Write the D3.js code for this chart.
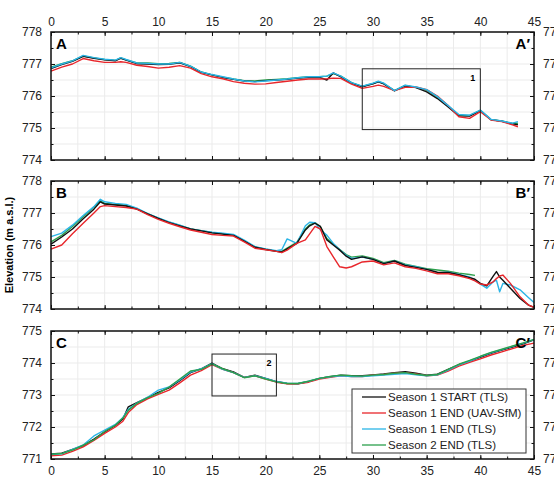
<!DOCTYPE html>
<html>
<head>
<meta charset="utf-8">
<script src="https://cdn.jsdelivr.net/npm/d3@7"></script>
<style>
  body { margin: 0; background: #fff; }
  svg { font-family: "Liberation Sans", Arial, sans-serif; }
  .tick text { fill: #222; font-size: 12px; }
</style>
</head>
<body>
<svg id="chart" width="554" height="480"></svg>
<script>
// series names + colours (legend order)
const seriesNames = ["Season 1 START (TLS)", "Season 1 END (UAV-SfM)", "Season 1 END (TLS)", "Season 2 END (TLS)"];
const seriesColors = ["#111111", "#e8262b", "#2bb5e6", "#2ca04c"];

const xTicks = [0, 5, 10, 15, 20, 25, 30, 35, 40, 45];

// profile A
const xA = [0,1,2,3,4,5,6,6.5,7,8,9,10,11,12,13,14,15,16,17,18,19,20,21,22,23,24,25,25.7,26.3,27,28,29,30,30.5,31,32,33,34,35,36,37,38,39,40,41,42,43,43.5];
const blackA = [776.86,776.98,777.08,777.24,777.18,777.13,777.1,777.18,777.12,777.01,777.0,776.98,776.99,777.04,776.92,776.74,776.66,776.58,776.52,776.47,776.45,776.48,776.5,776.52,776.56,776.58,776.58,776.5,776.72,776.6,776.4,776.29,776.38,776.44,776.38,776.16,776.32,776.26,776.13,775.92,775.66,775.38,775.37,775.54,775.26,775.21,775.13,775.1];
const redA = [776.78,776.9,777.0,777.17,777.1,777.05,777.05,777.07,777.05,776.96,776.92,776.87,776.9,776.95,776.87,776.7,776.6,776.54,776.45,776.4,776.37,776.38,776.42,776.46,776.5,776.53,776.53,776.54,776.56,776.55,776.37,776.24,776.3,776.34,776.3,776.17,776.27,776.28,776.2,776.0,775.7,775.35,775.3,775.51,775.25,775.2,775.1,775.04];
const cyanA = [776.88,777.0,777.1,777.27,777.2,777.15,777.12,777.2,777.14,777.03,777.02,777.0,777.0,777.05,776.93,776.75,776.67,776.6,776.53,776.47,776.44,776.47,776.5,776.53,776.57,776.6,776.6,776.62,776.72,776.62,776.42,776.31,776.4,776.46,776.4,776.17,776.34,776.28,776.2,775.98,775.7,775.42,775.4,775.56,775.27,775.22,775.15,775.2];
const greenA = [776.9,777.01,777.1,777.25,777.19,777.14,777.11,777.19,777.13,777.03,777.03,777.01,777.02,777.05,776.93,776.75,776.66,776.59,776.53,776.48,776.47,776.5,776.52,776.54,776.57,776.6,776.6,776.62,776.7,776.62,776.42,776.3,776.39,776.45,776.39,776.17,776.33,776.27,776.18,775.96,775.69,775.4,775.39,775.55,775.26,775.22,775.14,775.15];

// profile B
const xB = [0,1,2,3,4,4.6,5,6,7,8,9,10,11,12,13,14,15,16,17,18,19,20,21,21.5,22,22.9,23.7,24.1,24.6,25.1,25.7,26.3,26.9,27.5,28,29,30,31,32,33,34,35,36,37,38,39,39.5,40,40.6,41.2,41.5,41.8,42.1,42.8,43.7,44.5,45];
const blackB = [776.03,776.25,776.5,776.82,777.12,777.35,777.28,777.25,777.22,777.12,776.97,776.83,776.7,776.6,776.5,776.44,776.38,776.34,776.3,776.12,775.93,775.86,775.8,775.78,775.88,776.05,776.47,776.6,776.68,776.58,776.16,776.0,775.84,775.65,775.55,775.63,775.55,775.42,775.5,775.36,775.3,775.24,775.15,775.14,775.07,774.98,774.93,774.8,774.72,775.03,775.17,775.0,774.9,774.65,774.33,774.12,774.05];
const redB = [775.87,776.0,776.35,776.68,777.0,777.2,777.23,777.2,777.17,777.12,776.95,776.8,776.68,776.57,776.47,776.4,776.33,776.3,776.28,776.1,775.9,775.85,775.8,775.76,775.84,776.05,776.16,776.35,776.58,776.5,775.95,775.63,775.32,775.28,775.32,775.47,775.5,775.38,775.44,775.32,775.27,775.19,775.1,775.1,775.04,774.95,774.88,774.78,774.75,774.85,774.95,775.03,775.06,774.8,774.38,774.12,774.05];
const cyanB = [776.26,776.37,776.62,776.92,777.2,777.43,777.35,777.3,777.27,777.15,776.98,776.85,776.72,776.62,776.5,776.45,776.4,776.37,776.33,776.15,775.95,775.88,775.82,775.85,776.19,776.05,776.6,776.71,776.7,776.47,776.31,776.05,775.85,775.68,775.58,775.62,775.55,775.42,775.5,775.38,775.32,775.24,775.13,775.15,775.08,775.0,774.9,774.78,774.65,774.85,774.9,774.54,774.8,774.75,774.6,774.35,774.2];
const greenB = [776.1,776.3,776.58,776.88,777.18,777.38,777.3,777.27,777.24,777.13,776.98,776.84,776.71,776.61,776.5,776.45,776.39,776.35,776.31,776.13,775.94,775.87,775.81,775.8,775.9,776.08,776.5,776.63,776.7,776.57,776.2,776.03,775.86,775.7,775.62,775.66,775.58,775.45,775.52,775.4,775.33,775.26,775.22,775.18,775.12,775.08,775.05,null,null,null,null,null,null,null,null,null,null];

// profile C
const xC = [0,1,2,3,4,5,6,6.7,7.2,8,9,10,11,12,13,14,15,16,17,18,19,20,21,22,23,24,25,26,27,28,29,30,31,32,33,34,35,36,37,38,39,40,41,42,43,44,45];
const blackC = [771.16,771.18,771.3,771.42,771.62,771.85,772.05,772.25,772.63,772.76,772.92,773.08,773.22,773.45,773.7,773.82,774.0,773.82,773.72,773.55,773.62,773.52,773.42,773.36,773.35,773.42,773.52,773.57,773.62,773.6,773.6,773.63,773.66,773.7,773.73,773.68,773.62,773.65,773.8,773.95,774.06,774.18,774.3,774.4,774.5,774.6,774.72];
const redC = [771.1,771.12,771.24,771.38,771.58,771.8,772.0,772.18,772.45,772.7,772.88,773.02,773.15,773.38,773.62,773.76,773.95,773.8,773.7,773.55,773.6,773.5,773.4,773.35,773.35,773.4,773.5,773.55,773.6,773.58,773.58,773.62,773.64,773.68,773.7,773.66,773.6,773.62,773.75,773.9,774.02,774.13,774.25,774.35,774.45,774.55,774.62];
const cyanC = [771.14,771.16,771.3,771.44,771.72,771.9,772.08,772.3,772.55,772.75,772.93,773.15,773.25,773.47,773.72,773.82,773.98,773.8,773.7,773.55,773.6,773.52,773.42,773.37,773.36,773.43,773.52,773.57,773.6,773.58,773.58,773.6,773.62,773.65,773.67,773.63,773.6,773.63,773.78,773.94,774.06,774.2,774.32,774.42,774.52,774.62,774.73];
const greenC = [771.15,771.17,771.28,771.43,771.6,771.86,772.06,772.28,772.52,772.74,772.92,773.05,773.25,773.5,773.75,773.8,773.97,773.82,773.7,773.54,773.6,773.5,773.41,773.36,773.36,773.43,773.52,773.58,773.62,773.6,773.59,773.62,773.64,773.68,773.7,773.65,773.61,773.64,773.8,773.96,774.08,774.21,774.33,774.43,774.53,774.63,774.74];

// zoom boxes: [x0, x1, y0, y1]
const box1 = [29, 40, 774.95, 776.85];
const box2 = [15, 21, 772.97, 774.28];

const svg = d3.select("#chart");
const x = d3.scaleLinear().domain([0, 45]).range([51, 534]);

// order: which series is drawn on top (last drawn = top)
const panels = [
    { xs: xA, ys: [blackA, redA, cyanA, greenA], order: [3, 0, 1, 2], dom: [774, 778], top: 32, label: "A", end: "A\u2032", box: box1, boxLabel: "1" },
    { xs: xB, ys: [blackB, redB, cyanB, greenB], order: [3, 2, 0, 1], dom: [774, 778], top: 181, label: "B", end: "B\u2032" },
    { xs: xC, ys: [blackC, redC, cyanC, greenC], order: [0, 1, 2, 3], dom: [771, 775], top: 331, label: "C", end: "C\u2032", box: box2, boxLabel: "2" }
];
const ph = 128;

panels.forEach(function (p, pi) {
    const y = d3.scaleLinear().domain(p.dom).range([p.top + ph, p.top]);
    const g = svg.append("g");
    const yMaj = d3.range(p.dom[0], p.dom[1] + 0.01, 1);
    const yMin = d3.range(p.dom[0], p.dom[1] + 0.01, 0.5);
    const xMin = d3.range(0, 45.01, 2.5);

    // grid
    g.selectAll(".gx").data(xMin).enter().append("line")
        .attr("x1", d => x(d)).attr("x2", d => x(d))
        .attr("y1", p.top).attr("y2", p.top + ph)
        .style("stroke", "#ebebeb").style("stroke-width", 1);
    g.selectAll(".gy").data(yMin).enter().append("line")
        .attr("x1", x(0)).attr("x2", x(45))
        .attr("y1", d => y(d)).attr("y2", d => y(d))
        .style("stroke", "#ebebeb").style("stroke-width", 1);

    // axes: major + minor ticks, inward
    const fmt = d3.format("d");
    const addAxis = function (axis, tr) {
        const a = g.append("g").attr("transform", tr).call(axis);
        a.select(".domain").remove();
        a.selectAll("line").style("stroke", "#111").style("stroke-width", 1);
        return a;
    };
    addAxis(d3.axisLeft(y).tickValues(yMaj).tickSize(-4).tickPadding(9).tickFormat(fmt), "translate(" + x(0) + ",0)");
    addAxis(d3.axisLeft(y).tickValues(yMin).tickSize(-2.5).tickFormat(""), "translate(" + x(0) + ",0)");
    addAxis(d3.axisRight(y).tickValues(yMaj).tickSize(-4).tickPadding(9).tickFormat(fmt), "translate(" + x(45) + ",0)");
    addAxis(d3.axisRight(y).tickValues(yMin).tickSize(-2.5).tickFormat(""), "translate(" + x(45) + ",0)");
    addAxis(d3.axisTop(x).tickValues(xTicks).tickSize(-4).tickPadding(6).tickFormat(pi === 0 ? fmt : ""), "translate(0," + p.top + ")");
    addAxis(d3.axisTop(x).tickValues(xMin).tickSize(-2.5).tickFormat(""), "translate(0," + p.top + ")");
    addAxis(d3.axisBottom(x).tickValues(xTicks).tickSize(-4).tickPadding(7).tickFormat(pi === 2 ? fmt : ""), "translate(0," + (p.top + ph) + ")");
    addAxis(d3.axisBottom(x).tickValues(xMin).tickSize(-2.5).tickFormat(""), "translate(0," + (p.top + ph) + ")");

    // profiles
    p.order.forEach(function (si) {
        const ys = p.ys[si];
        const pts = p.xs.map((d, i) => [d, ys[i]]);
        const line = d3.line()
            .defined(d => d[1] !== null)
            .x(d => x(d[0])).y(d => y(d[1]));
        g.append("path")
            .datum(pts)
            .attr("d", line)
            .style("fill", "none")
            .style("stroke", seriesColors[si])
            .style("stroke-width", 1.4)
            .style("stroke-linejoin", "round");
    });

    // zoom box
    if (p.box) {
        g.append("rect")
            .attr("x", x(p.box[0])).attr("y", y(p.box[3]))
            .attr("width", x(p.box[1]) - x(p.box[0]))
            .attr("height", y(p.box[2]) - y(p.box[3]))
            .style("fill", "none").style("stroke", "#222").style("stroke-width", 1);
        g.append("text")
            .attr("x", x(p.box[1]) - 5).attr("y", y(p.box[3]) + 12)
            .attr("text-anchor", "end")
            .style("font-size", "9px").style("font-weight", "bold")
            .text(p.boxLabel);
    }

    // frame
    g.append("rect")
        .attr("x", x(0)).attr("y", p.top)
        .attr("width", x(45) - x(0)).attr("height", ph)
        .style("fill", "none").style("stroke", "#111").style("stroke-width", 1.5);

    // profile letters
    g.append("text").attr("x", x(0) + 5).attr("y", p.top + 17)
        .style("font-size", "15px").style("font-weight", "bold").text(p.label);
    g.append("text").attr("x", x(45) - 4).attr("y", p.top + 17)
        .attr("text-anchor", "end")
        .style("font-size", "15px").style("font-weight", "bold").text(p.end);
});

// y title
svg.append("text")
    .attr("transform", "translate(13,245) rotate(-90)")
    .attr("text-anchor", "middle")
    .style("font-size", "11px").style("font-weight", "bold")
    .text("Elevation (m a.s.l.)");

// legend
const leg = svg.append("g").attr("transform", "translate(352,389)");
leg.append("rect").attr("width", 174).attr("height", 64)
    .style("fill", "#fff").style("stroke", "#333").style("stroke-width", 1);
seriesNames.forEach(function (name, i) {
    const ly = 8 + i * 16;
    leg.append("line").attr("x1", 10).attr("x2", 34).attr("y1", ly).attr("y2", ly)
        .style("stroke", seriesColors[i]).style("stroke-width", 1.3);
    leg.append("text").attr("x", 36).attr("y", ly + 4)
        .style("font-size", "11.5px").style("fill", "#222").text(name);
});
</script>
</body>
</html>
